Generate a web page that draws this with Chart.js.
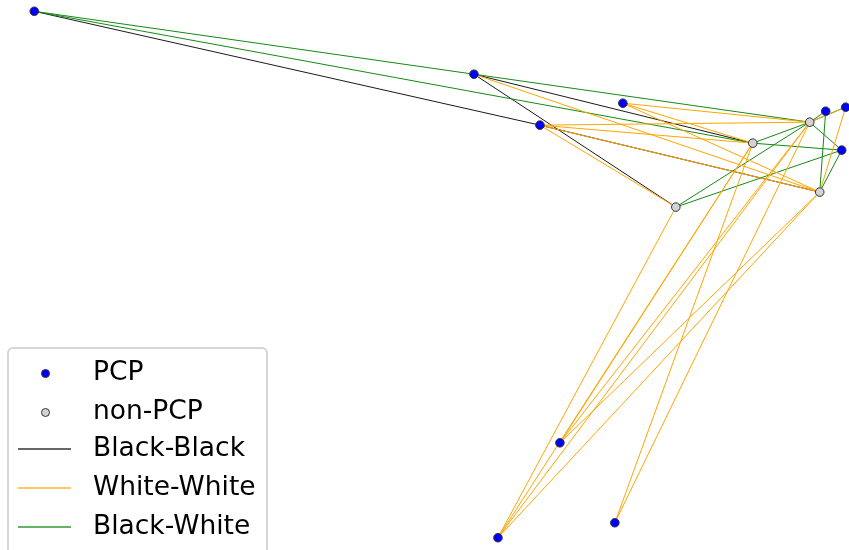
<!DOCTYPE html>
<html>
<head>
<meta charset="utf-8">
<script src="https://cdn.jsdelivr.net/npm/chart.js@4/dist/chart.umd.min.js"></script>
<style>
  body { margin: 0; background: #fff; font-family: "DejaVu Sans", sans-serif; }
  #wrap { position: relative; width: 849px; height: 550px; }
  #legend {
    position: absolute; left: 7px; top: 347px; width: 261px; height: 210px;
    border: 2px solid #d6d6d6; border-radius: 6px; background: rgba(255,255,255,0.8);
    box-sizing: border-box;
  }
  .item { position: absolute; left: 0; height: 39px; width: 100%; }
  .item span { position: absolute; left: 84px; top: calc(50% - 3px); transform: translateY(-50%); font-size: 26.5px; color: #000; white-space: nowrap; }
  .dot { position: absolute; left: 32px; top: 50%; width: 7px; height: 7px; margin-top: -4px; border-radius: 50%; border: 1px solid #333; }
  .ln { position: absolute; left: 9px; width: 53px; top: 50%; height: 2px; margin-top: -1px; }
</style>
</head>
<body>
<div id="wrap">
  <canvas id="net"></canvas>
  <div id="legend">
    <div class="item" style="top:4px"><i class="dot" style="background:#0000ff"></i><span>PCP</span></div>
    <div class="item" style="top:43px"><i class="dot" style="background:#d3d3d3"></i><span>non-PCP</span></div>
    <div class="item" style="top:80px"><i class="ln" style="background:rgba(0,0,0,0.6)"></i><span>Black-Black</span></div>
    <div class="item" style="top:119px"><i class="ln" style="background:rgba(255,165,0,0.6)"></i><span>White-White</span></div>
    <div class="item" style="top:158px"><i class="ln" style="background:rgba(0,128,0,0.6)"></i><span>Black-White</span></div>
  </div>
</div>
<script>
// node layout (x right, y down)
const nodeX = [34, 474, 623, 540, 753, 810, 826, 846, 842, 820, 676, 560, 498, 615];
const nodeY = [11, 74, 103, 125, 143, 122, 111, 107, 150, 192, 207, 443, 538, 523];
const nodePCP = [1, 1, 1, 1, 0, 0, 1, 1, 1, 0, 0, 1, 1, 1];

// edges as pairs of node indexes
const blackBlack = [[0, 3], [3, 9], [1, 4], [1, 10]];
const blackWhite = [[0, 1], [0, 4], [1, 5], [4, 5], [4, 8], [5, 6], [5, 7], [5, 8], [5, 10], [6, 9], [8, 9], [8, 10]];
const whiteWhite = [[1, 9], [2, 5], [2, 4], [2, 9], [3, 5], [3, 4], [3, 9], [3, 10], [7, 9], [5, 7],
  [4, 11], [4, 12], [4, 13], [5, 11], [5, 12], [5, 13], [9, 11], [9, 12], [10, 12]];

const edgeColors = { bb: '#1a1a1a', ww: '#ffa500', bw: '#138a13' };

function edgeSets(list, color) {
  return list.map(([a, b]) => ({
    type: 'line',
    data: [{ x: nodeX[a], y: nodeY[a] }, { x: nodeX[b], y: nodeY[b] }],
    borderColor: color,
    borderWidth: 1,
    pointRadius: 0,
    fill: false,
    order: 2
  }));
}

const pts = nodeX.map((x, i) => ({ x: x, y: nodeY[i] }));

const datasets = [
  {
    type: 'scatter',
    data: pts,
    pointRadius: 4.3,
    pointBackgroundColor: nodePCP.map(p => p ? '#0000ff' : '#d3d3d3'),
    pointBorderColor: '#333',
    pointBorderWidth: 1,
    order: 0
  },
  ...edgeSets(whiteWhite, edgeColors.ww),
  ...edgeSets(blackWhite, edgeColors.bw),
  ...edgeSets(blackBlack, edgeColors.bb)
];

new Chart(document.getElementById('net'), {
  type: 'scatter',
  data: { datasets },
  options: {
    responsive: true,
    maintainAspectRatio: false,
    animation: false,
    clip: false,
    layout: { padding: 0 },
    scales: {
      x: { type: 'linear', min: 5, max: 844, display: false },
      y: { type: 'linear', min: 5, max: 545, reverse: true, display: false }
    },
    plugins: { legend: { display: false }, tooltip: { enabled: false } }
  }
});
</script>
</body>
</html>
